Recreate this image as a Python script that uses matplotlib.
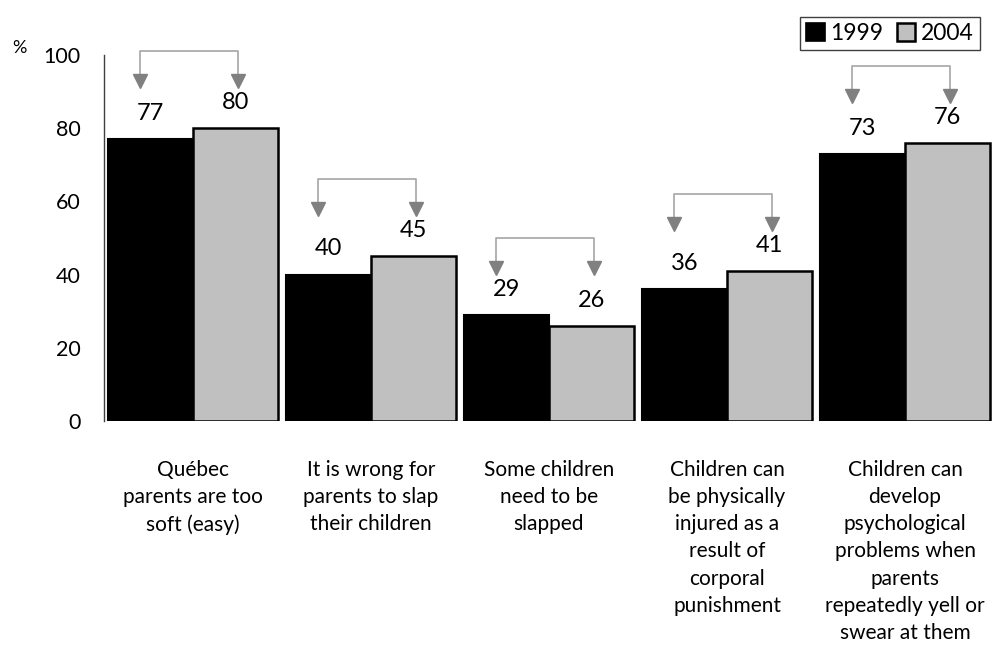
import numpy as np
import matplotlib
matplotlib.use("Agg")
import matplotlib.pyplot as plt
from matplotlib.patches import Patch

plt.rcParams['font.family'] = ['Lato', 'DejaVu Sans']

categories = [
    "Québec\nparents are too\nsoft (easy)",
    "It is wrong for\nparents to slap\ntheir children",
    "Some children\nneed to be\nslapped",
    "Children can\nbe physically\ninjured as a\nresult of\ncorporal\npunishment",
    "Children can\ndevelop\npsychological\nproblems when\nparents\nrepeatedly yell or\nswear at them",
]
years = ["1999", "2004"]
pct_1999 = [77, 40, 29, 36, 73]
pct_2004 = [80, 45, 26, 41, 76]

fig = plt.figure(figsize=(9.97, 6.45), dpi=100)
ax = fig.add_axes([104 / 997, 1 - 421 / 645, 890 / 997, 366 / 645])

x = np.arange(len(categories))
w = 0.48
ax.bar(x - w / 2, pct_1999, w, color="black", edgecolor="black", linewidth=1.5)
ax.bar(x + w / 2, pct_2004, w, color="#c0c0c0", edgecolor="black", linewidth=1.8)

for i in range(len(x)):
    a, b = pct_1999[i], pct_2004[i]
    ax.text(x[i] - w / 2, a + 7, str(a), ha="center", va="center", fontsize=17)
    ax.text(x[i] + w / 2, b + 7, str(b), ha="center", va="center", fontsize=17)

    # bracket with arrows pointing from the 1999 value to the 2004 value
    top = max(a, b) + 21
    tip = top - 10
    xl, xr = x[i] - 0.30, x[i] + 0.25
    ax.plot([xl, xl, xr, xr], [tip + 3, top, top, tip + 3], color="#a6a6a6",
            lw=1.2, clip_on=False, zorder=3)
    ax.plot([xl, xr], [tip + 1.9, tip + 1.9], ls="none", marker="v",
            markersize=10.5, color="#808080", clip_on=False, zorder=4)

ax.set_xlim(-0.5, len(categories) - 0.5)
ax.set_ylim(0, 100)
ax.set_yticks(range(0, 101, 20))
ax.set_xticks(x)
ax.set_xticklabels(categories, fontsize=15, linespacing=1.45, va="top")
ax.tick_params(axis="x", length=0, pad=28)
ax.tick_params(axis="y", length=0, pad=17, labelsize=15.5)

for s in ("top", "right", "bottom"):
    ax.spines[s].set_visible(False)
ax.spines["left"].set_color("#404040")
ax.spines["left"].set_linewidth(1)

fig.text(12 / 997, 1 - 48 / 645, "%", fontsize=13, va="center", ha="left")

handles = [Patch(facecolor="black", edgecolor="black", lw=1.2),
           Patch(facecolor="#c0c0c0", edgecolor="black", lw=1.8)]
leg = fig.legend(handles, years, loc="upper right",
                 bbox_to_anchor=(991 / 997, 1 - 6 / 645), ncol=2, fontsize=16.5,
                 handlelength=0.8, handleheight=0.8, handletextpad=0.25,
                 columnspacing=0.6, borderpad=0.25, fancybox=False,
                 edgecolor="#404040", framealpha=1)
leg.get_frame().set_linewidth(1)

fig.savefig("out.png", dpi=100)
